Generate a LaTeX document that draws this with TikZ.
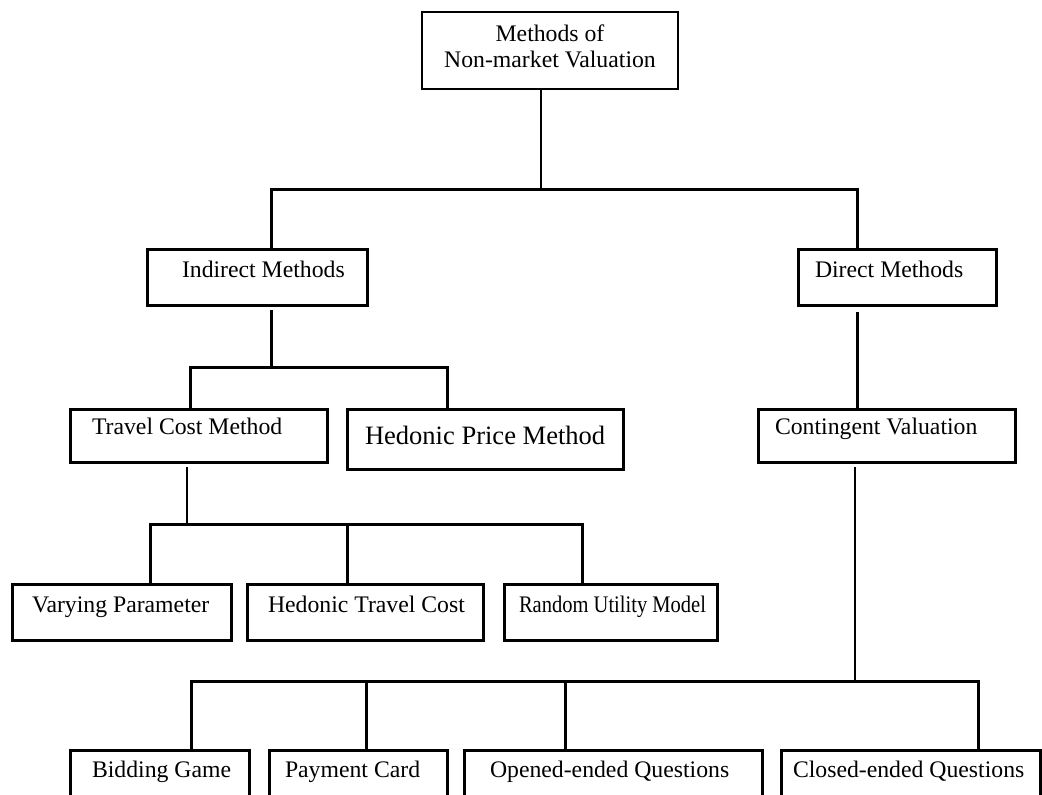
\documentclass[tikz,border=0pt]{standalone}
\usepackage{fontspec}
\setmainfont{Liberation Serif}
\newcommand\bxnode[5]{\node[boxst, minimum width={(#4-#2)*0.75pt}, minimum height={(#5-#3)*0.75pt}] (#1) at ({(#2+#4)/2},{(#3+#5)/2}) {};}
\begin{document}
\begin{tikzpicture}[x=0.75pt,y=-0.75pt,
  boxst/.style={draw, line width=2.25pt, inner sep=0pt, outer sep=0pt},
  lbl/.style={inner sep=0pt, outer sep=0pt, font=\fontsize{17.8pt}{19.5pt}\selectfont},
  biglbl/.style={inner sep=0pt, outer sep=0pt, font=\fontsize{19.9pt}{22pt}\selectfont},
  bus/.style={line width=2.25pt},
  thinline/.style={line width=0.8pt}]
\useasboundingbox (0,0) rectangle (1042,794);
\begin{scope}
\clip (0,0) rectangle (1042,794);
% root
\node[draw, line width=1pt, inner sep=0pt, outer sep=0pt, minimum width={256*0.75pt}, minimum height={77*0.75pt}] (root) at (550,50.5) {};
\node[lbl, align=center] (troot) at (550,46) {Methods of\\Non-market Valuation};
% level 2
\bxnode{ind}{147}{249}{367}{305}
\node[lbl, anchor=base west] (tind) at (182,277) {Indirect Methods};
\bxnode{dir}{798}{249}{996}{305}
\node[lbl, anchor=base west] (tdir) at (815,277) {Direct Methods};
% level 3
\bxnode{tcm}{70}{409}{327}{462}
\node[lbl, anchor=base west] (ttcm) at (92,434) {Travel Cost Method};
\bxnode{hpm}{347}{409}{623}{469}
\node[biglbl, anchor=base west] (thpm) at (365,444) {Hedonic Price Method};
\bxnode{cv}{758}{409}{1015}{462}
\node[lbl, anchor=base west] (tcv) at (775,434) {Contingent Valuation};
% level 4
\bxnode{vp}{12}{584}{231}{640}
\node[lbl, anchor=base west] (tvp) at (32,612) {Varying Parameter};
\bxnode{htc}{247}{584}{483}{640}
\node[lbl, anchor=base west] (thtc) at (268,612) {Hedonic Travel Cost};
\bxnode{rum}{504}{584}{717}{640}
\node[lbl, anchor=base west, xscale=0.865] (trum) at (519,612) {Random Utility Model};
% level 5
\bxnode{bg}{70}{750}{249}{830}
\node[lbl, anchor=base west] (tbg) at (92,777) {Bidding Game};
\bxnode{pc}{269}{750}{447}{830}
\node[lbl, anchor=base west] (tpc) at (285,777) {Payment Card};
\bxnode{oeq}{464}{750}{762}{830}
\node[lbl, anchor=base west] (toeq) at (490,777) {Opened-ended Questions};
\bxnode{ceq}{781}{750}{1040}{830}
\node[lbl, anchor=base west] (tceq) at (793,777) {Closed-ended Questions};
% junction coordinates
\coordinate (j0) at (541,189);
\coordinate (b1l) at (271,189);
\coordinate (b1r) at (857,189);
\coordinate (b2m) at (271,367);
\coordinate (b2l) at (190,367);
\coordinate (b2r) at (447,367);
\coordinate (b3m) at (187,524);
\coordinate (b3l) at (150,524);
\coordinate (b3c) at (347,524);
\coordinate (b3r) at (582,524);
\coordinate (b4m) at (855,681);
\coordinate (b4l) at (191,681);
\coordinate (b4a) at (366,681);
\coordinate (b4b) at (565,681);
\coordinate (b4r) at (978,681);
% connectors
\draw[thinline] (root.south -| j0) -- (j0);
\draw[bus] (ind.north -| b1l) -- (b1l) -- (b1r) -- (dir.north -| b1r);
\draw[bus, shorten <=4pt] (ind.south -| b2m) -- (b2m);
\draw[bus] (tcm.north -| b2l) -- (b2l) -- (b2r) -- (hpm.north -| b2r);
\draw[bus, shorten <=5pt] (dir.south -| b1r) -- (cv.north -| b1r);
\draw[thinline, shorten <=4pt] (tcm.south -| b3m) -- (b3m);
\draw[bus] (vp.north -| b3l) -- (b3l) -- (b3r) -- (rum.north -| b3r);
\draw[bus] (b3c) -- (htc.north -| b3c);
\draw[thinline, shorten <=4pt] (cv.south -| b4m) -- (b4m);
\draw[bus] (bg.north -| b4l) -- (b4l) -- (b4r) -- (ceq.north -| b4r);
\draw[bus] (b4a) -- (pc.north -| b4a);
\draw[bus] (b4b) -- (oeq.north -| b4b);
\end{scope}
\end{tikzpicture}
\end{document}
